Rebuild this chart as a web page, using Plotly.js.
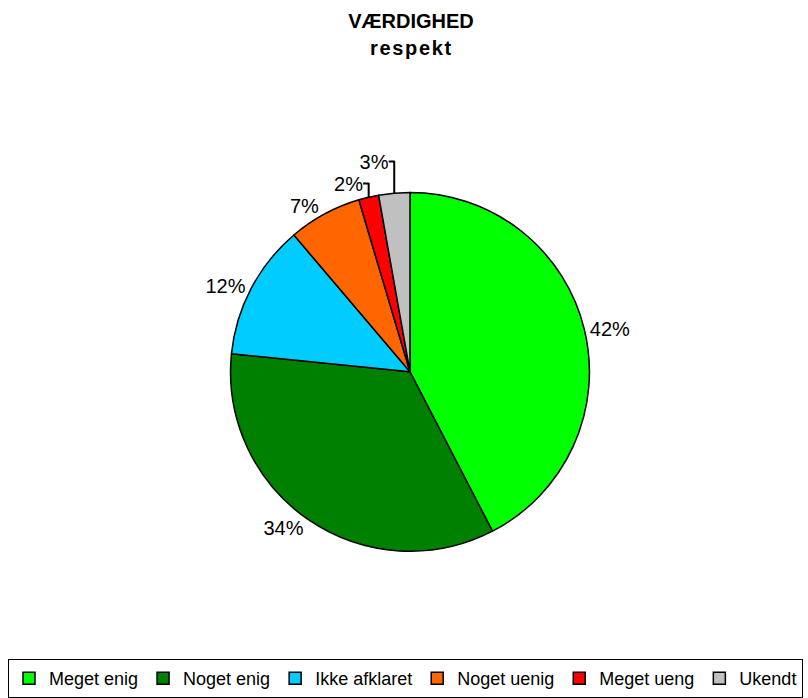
<!DOCTYPE html>
<html>
<head>
<meta charset="utf-8">
<script src="https://cdn.plot.ly/plotly-3.0.1.min.js"></script>
<style>html,body{margin:0;padding:0;background:#fff;}#chart{width:808px;height:698px;}</style>
</head>
<body>
<div id="chart"></div>
<script>
const categories = ["Meget enig", "Noget enig", "Ikke afklaret", "Noget uenig", "Meget ueng", "Ukendt"];
const shares = [42.4, 34.2, 12.2, 6.6, 1.8, 2.8];
const sliceColors = ["#00FF00", "#008000", "#00CCFF", "#FF6600", "#FF0000", "#C0C0C0"];
const titleMain = "VÆRDIGHED";
const titleSub = "respekt";

const W = 808, H = 698;
const mB = 60;
const Hp = H - mB;
const cx = 410, cy = 373, r = 180;
const FONT = "Liberation Sans, Arial, sans-serif";

const trace = {
  type: "pie",
  labels: categories,
  values: shares,
  sort: false,
  direction: "clockwise",
  rotation: 0,
  marker: { colors: sliceColors, line: { color: "#000000", width: 1.5 } },
  texttemplate: "%{percent:.0%}",
  textposition: "outside",
  outsidetextfont: { family: FONT, size: 20, color: "#000000" },
  hoverinfo: "label+percent",
  domain: { x: [(cx - r) / W, (cx + r) / W], y: [(Hp - cy - r) / Hp, (Hp - cy + r) / Hp] },
  automargin: false
};

const layout = {
  width: W, height: H,
  margin: { l: 0, r: 0, t: 0, b: mB },
  paper_bgcolor: "#ffffff",
  font: { family: FONT, color: "#000000" },
  title: {
    text: "<b>" + titleMain + "</b>",
    font: { family: FONT, size: 20, color: "#000000" },
    x: 411 / W, xanchor: "center", y: 1 - 21 / H, yanchor: "middle"
  },
  annotations: [{
    text: "<b>" + titleSub.split("").join("\u200A") + "</b>",
    showarrow: false, xref: "paper", yref: "paper",
    x: 411 / W, xanchor: "center", y: (Hp - 48) / Hp, yanchor: "middle",
    font: { family: FONT, size: 20, color: "#000000" }
  }],
  showlegend: true,
  legend: {
    orientation: "h",
    x: 8 / W, xanchor: "left",
    y: -(661 - Hp) / Hp, yanchor: "top",
    bordercolor: "#000000", borderwidth: 1,
    font: { family: FONT, size: 18, color: "#000000" },
    itemwidth: 30, tracegroupgap: 0
  }
};

Plotly.newPlot("chart", [trace], layout, { displayModeBar: false });
</script>
</body>
</html>
